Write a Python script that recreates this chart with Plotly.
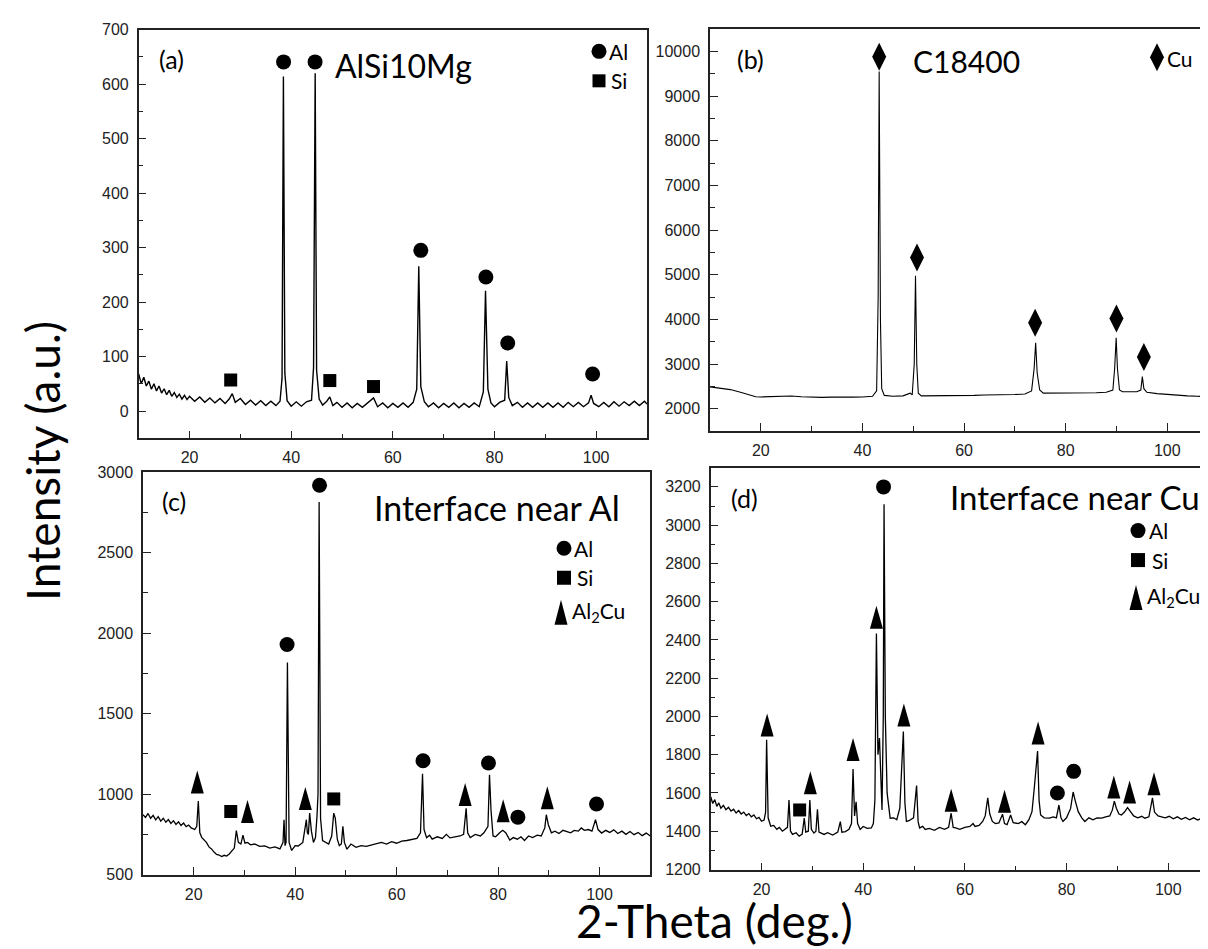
import plotly.graph_objects as go

W, H = 1208, 949

# ---------------- data ----------------
# (a) AlSi10Mg
two_theta_a = [10, 10.5, 11, 11.5, 12, 12.5, 13, 13.5, 14, 14.5, 15, 15.5, 16, 16.5, 17, 17.5, 18, 18.5, 19, 19.5,
               20, 21, 22, 23, 24, 25, 26, 27, 27.8, 28.4, 29.0, 30, 31, 32, 33, 34, 35, 36, 37, 37.8, 38.2, 38.47,
               38.75, 39.2, 40, 41, 42, 43, 44.0, 44.4, 44.72, 45.0, 45.5, 46.2, 47.0, 47.6, 48.2, 49, 50, 51, 52, 53,
               54, 55, 56.2, 57, 58, 59, 60, 61, 62, 63, 64, 64.7, 65.1, 65.5, 66.2, 67, 68, 69, 70, 71, 72, 73, 74,
               75, 76, 77, 77.8, 78.23, 78.7, 79.3, 80, 81, 82.0, 82.4, 82.8, 83.5, 84.5, 85.5, 86.5, 87.5, 88.5,
               89.5, 90.5, 91.5, 92.5, 93.5, 94.5, 95.5, 96.5, 97.5, 98.5, 99.0, 99.5, 100.5, 101.5, 102.5, 103.5,
               104.5, 105.5, 106.5, 107.5, 108.5, 109.5, 110]
intensity_a = [68, 50, 62, 46, 55, 40, 50, 37, 46, 33, 41, 30, 38, 27, 34, 25, 31, 22, 29, 21,
               27, 18, 26, 16, 24, 15, 23, 14, 22, 32, 16, 23, 12, 20, 11, 19, 10, 18, 10, 18, 60, 614,
               70, 19, 9, 17, 9, 17, 20, 80, 620, 75, 22, 11, 18, 26, 10, 16, 7, 15, 6, 14,
               7, 15, 24, 8, 15, 6, 14, 7, 15, 7, 16, 40, 266, 45, 17, 8, 15, 6, 14, 7, 15, 6, 14,
               7, 15, 8, 35, 221, 40, 15, 8, 16, 20, 92, 25, 10, 16, 7, 15, 7, 15,
               7, 15, 7, 15, 7, 16, 8, 16, 8, 15, 29, 14, 8, 16, 8, 17,
               9, 17, 10, 18, 10, 18, 13]

# (b) C18400
two_theta_b = [10, 12, 14, 16, 18, 19, 20, 22, 24, 26, 28, 30, 32, 34, 36, 38, 40, 42, 42.8, 43.1, 43.3, 43.55,
               43.8, 44.3, 46, 48, 49.4, 49.8, 50.2, 50.45, 50.7, 51.0, 51.6, 54, 56, 58, 60, 62, 64, 66, 68, 70,
               72, 73.3, 73.8, 74.1, 74.4, 74.9, 75.6, 78, 80, 82, 84, 86, 88, 89.3, 89.65, 89.95, 90.2, 90.6,
               91.2, 92, 93, 94, 94.8, 95.1, 95.4, 96, 98, 100, 102, 104, 106, 108, 110]
intensity_b = [2490, 2460, 2430, 2370, 2300, 2270, 2265, 2275, 2290, 2285, 2270, 2260, 2255, 2260, 2255, 2260,
               2265, 2280, 2400, 4500, 9550, 4000, 2450, 2300, 2280, 2290, 2350, 2310, 3000, 4980, 3000, 2350,
               2290, 2290, 2295, 2300, 2305, 2300, 2310, 2310, 2320, 2320, 2330, 2400, 2900, 3480, 2800, 2420,
               2350, 2350, 2345, 2350, 2355, 2360, 2370, 2420, 2900, 3590, 2900, 2420, 2380, 2380, 2370, 2380,
               2420, 2720, 2450, 2370, 2340, 2320, 2300, 2290, 2280, 2270, 2255]

# (c) Interface near Al
two_theta_c = [10, 10.5, 11, 11.5, 12, 12.5, 13, 13.5, 14, 14.5, 15, 15.5, 16, 16.5, 17, 17.5, 18, 18.5, 19, 19.5,
               20.2, 20.6, 20.9, 21.2, 21.6, 22.0, 22.5, 23.0, 23.5, 24.0, 24.5, 25.0, 25.5, 26.0, 26.5, 27.0,
               27.5, 28.0, 28.4, 28.8, 29.3, 29.7, 30.1, 30.6, 31.2, 32, 33, 34, 35, 36, 37, 37.6, 37.8, 38.0,
               38.2, 38.47, 38.8, 39.3, 40, 40.6, 41.5, 42.0, 42.2, 42.4, 42.6, 42.85, 43.2, 43.6, 44.0, 44.3,
               44.5, 44.72, 45.0, 45.4, 46.0, 46.6, 47.2, 47.6, 47.9, 48.3, 48.7, 49.1, 49.4, 49.7, 50.2, 51, 52,
               53, 54, 55, 56, 57, 58, 59, 60, 61, 62, 63, 64, 64.7, 65.1, 65.4, 65.9, 66.5, 67, 68, 69, 69.8,
               70.5, 71.5, 72.5, 73.2, 73.7, 74.0, 74.5, 75.5, 76.5, 77.2, 77.7, 78.0, 78.3, 78.6, 79.0, 79.5,
               80.3, 80.9, 81.5, 82.3, 83, 83.8, 84.5, 85.2, 86, 86.8, 87.7, 88.5, 89.2, 89.5, 89.9, 90.5, 91.2,
               92, 92.8, 93.6, 94.3, 95, 95.8, 96.4, 97, 97.8, 98.5, 99.2, 99.7, 100.4, 101.2, 102, 102.8, 103.6,
               104.4, 105.2, 106, 106.8, 107.6, 108.4, 109.2, 110]
intensity_c = [872, 855, 880, 850, 868, 840, 860, 832, 850, 825, 842, 818, 835, 812, 828, 805, 820, 798, 808, 790,
               780, 800, 957, 760, 730, 715, 700, 672, 660, 640, 625, 622, 612, 620, 615, 628,
               645, 665, 774, 700, 690, 745, 695, 700, 685, 690, 675, 678, 665, 672, 660, 700, 841, 680,
               700, 1817, 700, 650, 680, 678, 700, 800, 841, 760, 750, 882, 770, 700, 730, 862,
               1000, 2813, 850, 712, 700, 690, 740, 882, 851, 720, 680, 690, 800, 700, 658, 690, 670,
               680, 675, 682, 690, 700, 690, 705, 695, 708, 712, 720, 725, 760, 1126, 780, 730, 745, 720, 735, 725, 750,
               728, 735, 740, 750, 912, 760, 730, 750, 740, 760, 790, 800, 1120, 900, 740, 735,
               760, 775, 760, 715, 730, 720, 735, 712, 740, 730, 745, 740, 790, 872, 810, 760, 770,
               755, 775, 765, 760, 775, 770, 790, 775, 780, 770, 841, 780, 758, 775, 762, 778, 755,
               770, 750, 768, 748, 762, 742, 758, 740]

# (d) Interface near Cu
two_theta_d = [10, 10.4, 10.8, 11.2, 11.6, 12, 12.5, 13, 13.5, 14, 14.5, 15, 15.5, 16, 16.5, 17, 17.5, 18, 18.5, 19,
               19.5, 20, 20.5, 20.8, 21.0, 21.3, 21.8, 22.4, 23, 23.5, 24.1, 24.6, 25.1, 25.4, 25.7, 26.1, 26.8,
               27.4, 28.0, 28.4, 28.7, 29.2, 29.5, 29.8, 30.3, 30.7, 31.0, 31.3, 32.3, 33, 34, 35, 35.5, 35.8,
               36.5, 37.2, 37.7, 38.0, 38.3, 38.6, 38.9, 39.4, 40, 40.8, 41.6, 42.0, 42.3, 42.6, 42.9, 43.2, 43.45,
               43.7, 43.95, 44.1, 44.35, 44.7, 45.3, 46, 46.6, 47.2, 47.5, 47.9, 48.2, 48.5, 49, 49.4, 49.9, 50.5,
               50.8, 51.1, 51.7, 52.2, 53, 54, 55, 56, 56.8, 57.3, 57.7, 58.2, 59, 60, 61, 61.6, 62, 62.8, 63.5,
               64, 64.5, 64.9, 65.4, 66, 66.7, 67.4, 67.8, 68.3, 69.0, 69.5, 70.5, 71.2, 71.9, 72.6, 73.2, 73.7,
               74.3, 74.6, 74.9, 75.6, 76.6, 77.4, 78.0, 78.5, 78.9, 79.3, 80.0, 80.8, 81.3, 81.7, 82.3, 83, 83.6,
               84.4, 85.2, 86, 86.9, 87.7, 88.5, 89.0, 89.4, 89.8, 90.3, 90.8, 91.4, 92.0, 92.5, 93.2, 94, 94.8,
               95.4, 96.2, 96.9, 97.3, 98, 98.6, 99.4, 100.2, 101, 101.8, 102.6, 103.4, 104.2, 105, 105.8, 106.6,
               107.4, 108.2, 109, 109.6]
intensity_d = [1580, 1545, 1565, 1530, 1548, 1520, 1535, 1512, 1525, 1505, 1515, 1495, 1508, 1490, 1500, 1482, 1492,
               1475, 1485, 1465, 1472, 1452, 1458, 1500, 1878, 1470, 1426, 1430, 1410, 1420, 1400, 1408, 1420,
               1563, 1400, 1383, 1392, 1374, 1385, 1468, 1395, 1400, 1563, 1410, 1390, 1400, 1515, 1395, 1383,
               1392, 1380, 1395, 1450, 1395, 1398, 1410, 1440, 1725, 1480, 1554, 1440, 1409, 1425, 1415, 1417,
               1440, 1563, 2434, 1800, 1887, 1640, 1511, 2000, 3109, 2000, 1600, 1468, 1470, 1460, 1520, 1691,
               1921, 1550, 1451, 1455, 1460, 1470, 1639, 1450, 1417, 1425, 1409, 1415, 1405, 1420, 1410, 1420,
               1494, 1420, 1417, 1410, 1420, 1425, 1440, 1425, 1430, 1451, 1480, 1574, 1490, 1451, 1440, 1443,
               1489, 1440, 1434, 1485, 1445, 1440, 1450, 1434, 1460, 1502, 1639, 1819, 1560, 1485, 1470, 1468,
               1475, 1470, 1537, 1470, 1451, 1470, 1519, 1605, 1560, 1502, 1470, 1451, 1470, 1460, 1470, 1468,
               1475, 1480, 1510, 1557, 1520, 1490, 1485, 1500, 1523, 1505, 1480, 1470, 1478, 1468, 1475, 1574,
               1500, 1480, 1477, 1470, 1478, 1465, 1475, 1462, 1472, 1460, 1470, 1458, 1468, 1455, 1466, 1452, 1462]

# phase markers: positions (2-theta, intensity)
a_al_x = [38.5, 44.7, 65.5, 78.3, 82.6, 99.3]
a_al_y = [641, 641, 295, 246, 125, 68]
a_si_x = [28.1, 47.6, 56.2]
a_si_y = [57, 56, 45]
b_cu_x = [43.3, 50.75, 74.0, 90.0, 95.4]
b_cu_y = [9880, 5385, 3925, 4020, 3158]
c_al_x = [38.4, 44.8, 65.2, 78.1, 83.9, 99.4]
c_al_y = [1929, 2918, 1207, 1193, 857, 939]
c_si_x = [27.3, 47.6]
c_si_y = [892, 970]
c_al2cu_x = [20.7, 30.6, 42.0, 73.5, 81.0, 89.7]
c_al2cu_y = [1075, 892, 973, 998, 896, 977]
d_al_x = [44.0, 78.2, 81.4]
d_al_y = [3200, 1600, 1713]
d_si_x = [27.5]
d_si_y = [1511]
d_al2cu_x = [21.1, 29.6, 38.0, 42.6, 48.0, 57.3, 67.8, 74.4, 89.3, 92.4, 97.2]
d_al2cu_y = [1955, 1653, 1827, 2519, 2007, 1562, 1557, 1913, 1631, 1605, 1648]

panel_labels = ["(a)", "(b)", "(c)", "(d)"]
sample_names = ["AlSi10Mg", "C18400", "Interface near Al", "Interface near Cu"]

# ---------------- figure ----------------
fig = go.Figure()


def spectrum(x, y, n, width):
    sfx = "" if n == 1 else str(n)
    fig.add_trace(go.Scatter(x=x, y=y, mode="lines", line=dict(color="black", width=width),
                             xaxis="x" + sfx, yaxis="y" + sfx, hoverinfo="skip"))


def marks(x, y, n, symbol, size):
    sfx = "" if n == 1 else str(n)
    fig.add_trace(go.Scatter(x=x, y=y, mode="markers", xaxis="x" + sfx, yaxis="y" + sfx,
                             marker=dict(symbol=symbol, size=size, color="black", line=dict(width=0)),
                             cliponaxis=False, hoverinfo="skip"))


spectrum(two_theta_a, intensity_a, 1, 1.4)
spectrum(two_theta_b, intensity_b, 2, 1.1)
spectrum(two_theta_c, intensity_c, 3, 1.3)
spectrum(two_theta_d, intensity_d, 4, 1.3)

marks(a_al_x, a_al_y, 1, "circle", 15)
marks(a_si_x, a_si_y, 1, "square", 13)
marks(b_cu_x, b_cu_y, 2, "diamond-tall", 20)
marks(c_al_x, c_al_y, 3, "circle", 15)
marks(c_si_x, c_si_y, 3, "square", 13)
marks(d_al_x, d_al_y, 4, "circle", 15)
marks(d_si_x, d_si_y, 4, "square", 13)

TRI = "M-6.5,-11.5 L6.5,-11.5 L0,11.5 Z"
shapes = []


def tall_triangles(xs, ys, n):
    sfx = "" if n == 1 else str(n)
    for xv, yv in zip(xs, ys):
        shapes.append(dict(type="path", xref="x" + sfx, yref="y" + sfx, xsizemode="pixel",
                           ysizemode="pixel", xanchor=xv, yanchor=yv, path=TRI,
                           fillcolor="black", line=dict(width=0)))


tall_triangles(c_al2cu_x, c_al2cu_y, 3)
tall_triangles(d_al2cu_x, d_al2cu_y, 4)


def px(x):
    return x / W


def py(y):
    return 1 - y / H


def legend_symbol(kind, cx, cy, s):
    base = dict(xref="paper", yref="paper", xsizemode="pixel", ysizemode="pixel",
                xanchor=px(cx), yanchor=py(cy), fillcolor="black", line=dict(width=0))
    if kind == "circle":
        base.update(type="circle", x0=-s / 2, x1=s / 2, y0=-s / 2, y1=s / 2)
    elif kind == "square":
        base.update(type="rect", x0=-s / 2, x1=s / 2, y0=-s / 2, y1=s / 2)
    elif kind == "diamond":
        base.update(type="path", path="M0,14 L7,0 L0,-14 L-7,0 Z")
    else:
        base.update(type="path", path="M-6.5,-12.5 L6.5,-12.5 L0,12.5 Z")
    shapes.append(base)


legend_symbol("circle", 591, 36, 15)
legend_symbol("square", 591, 66, 13)
legend_symbol("diamond", 1149, 42, 0)
legend_symbol("circle", 556, 542, 15)
legend_symbol("square", 556, 572, 14)
legend_symbol("tri", 553, 607, 0)
legend_symbol("circle", 1130, 524, 15)
legend_symbol("square", 1130, 554, 14)
legend_symbol("tri", 1128, 592, 0)

TXT = "Lato"


def ann(text, x, y, size, xanchor="center", angle=0):
    return dict(text=text, x=px(x), y=py(y), xref="paper", yref="paper", showarrow=False,
                xanchor=xanchor, yanchor="middle", textangle=angle,
                font=dict(family=TXT, size=size, color="black"))


annotations = [
    ann(panel_labels[0], 163, 44, 25),
    ann(panel_labels[1], 743, 44, 25),
    ann(panel_labels[2], 166, 494, 25),
    ann(panel_labels[3], 736, 491, 25),
    ann(sample_names[0], 395, 50, 32),
    ann(sample_names[1], 958, 46, 30),
    ann(sample_names[2], 489, 500, 34),
    ann(sample_names[3], 1067, 490, 33),
    ann("Al", 599, 36, 21, "left"),
    ann("Si", 601, 66, 21, "left"),
    ann("Cu", 1157, 43, 21, "left"),
    ann("Al", 564, 542, 21, "left"),
    ann("Si", 567, 572, 21, "left"),
    ann("Al<sub>2</sub>Cu", 562, 607, 21, "left"),
    ann("Al", 1139, 524, 21, "left"),
    ann("Si", 1142, 554, 21, "left"),
    ann("Al<sub>2</sub>Cu", 1137, 592, 21, "left"),
    ann("Intensity (a.u.)", 35, 453, 46, angle=-90),
    ann("2-Theta (deg.)", 706, 921, 46),
]

TICKFONT = dict(family="Liberation Sans, Arial, sans-serif", size=16, color="#222")


def xax(domain, anchor, rng):
    return dict(domain=domain, anchor=anchor, range=rng, showline=True, linecolor="#222", linewidth=1.5,
                mirror=True, ticks="inside", ticklen=8, tickwidth=1.2, tickcolor="#222", dtick=20, tick0=0,
                showgrid=False, zeroline=False, tickfont=TICKFONT, ticklabelstandoff=4,
                minor=dict(ticks="inside", ticklen=5, tickwidth=1, tickcolor="#222", dtick=10, tick0=0,
                           showgrid=False))


def yax(domain, anchor, rng, dtick, mirror=True):
    return dict(domain=domain, anchor=anchor, range=rng, showline=True, linecolor="#222", linewidth=1.5,
                mirror=mirror, ticks="inside", ticklen=8, tickwidth=1.2, tickcolor="#222", dtick=dtick,
                tick0=0, tickformat="d", showgrid=False, zeroline=False, tickfont=TICKFONT,
                ticklabelstandoff=5,
                minor=dict(ticks="inside", ticklen=5, tickwidth=1, tickcolor="#222", dtick=dtick / 2,
                           tick0=0, showgrid=False))


fig.update_layout(
    width=W, height=H, margin=dict(l=0, r=0, t=0, b=0),
    paper_bgcolor="white", plot_bgcolor="white", showlegend=False,
    xaxis=xax([px(130.7), px(639)], "y", [10, 110]),
    yaxis=yax([py(430), py(14)], "x", [-50, 700], 100),
    xaxis2=xax([px(702), 1.0], "y2", [10, 109.6]),
    yaxis2=yax([py(422.7), py(13.3)], "x2", [1500, 10500], 1000, mirror=False),
    xaxis3=xax([px(135), px(642.3)], "y3", [10, 110]),
    yaxis3=yax([py(874.3), py(464.3)], "x3", [500, 3000], 500),
    xaxis4=xax([px(702.7), 1.0], "y4", [10, 109.4]),
    yaxis4=yax([py(870), py(460)], "x4", [1195, 3300], 200, mirror=False),
    shapes=shapes,
    annotations=annotations,
)

fig.write_html("out.html")
